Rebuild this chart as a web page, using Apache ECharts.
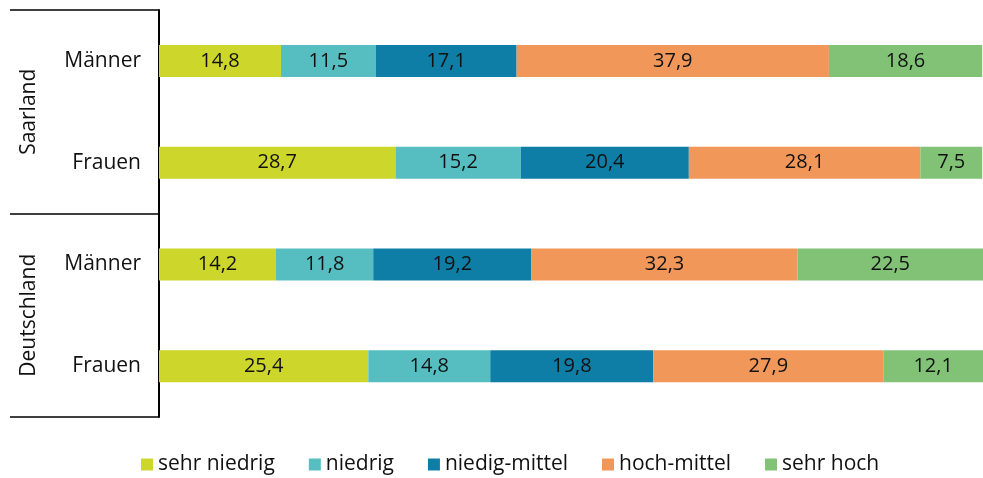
<!DOCTYPE html>
<html>
<head>
<meta charset="utf-8">
<script src="https://cdn.jsdelivr.net/npm/echarts@6/dist/echarts.min.js"></script>
<style>
  html, body { margin: 0; padding: 0; background: #fff; }
  #chart { width: 983px; height: 478px; }
</style>
</head>
<body>
<div id="chart"></div>
<script>
const rows = ['Männer', 'Frauen', 'Männer', 'Frauen']
const regions = ['Saarland', 'Deutschland']
const seriesNames = ['sehr niedrig', 'niedrig', 'niedig-mittel', 'hoch-mittel', 'sehr hoch']
const sehrNiedrig = [14.8, 28.7, 14.2, 25.4]
const niedrig = [11.5, 15.2, 11.8, 14.8]
const niedigMittel = [17.1, 20.4, 19.2, 19.8]
const hochMittel = [37.9, 28.1, 32.3, 27.9]
const sehrHoch = [18.6, 7.5, 22.5, 12.1]
const colors = ['#cdd62b', '#56bec0', '#0e7ea6', '#f09759', '#81c276']

const chart = echarts.init(document.getElementById('chart'))
const font = '"Open Sans", "Noto Sans", sans-serif'

const values = [sehrNiedrig, niedrig, niedigMittel, hochMittel, sehrHoch]

const option = {
  backgroundColor: '#fff',
  animation: false,
  textStyle: { fontFamily: font },
  legend: {
    top: 449,
    left: 136,
    itemWidth: 12,
    itemHeight: 12,
    itemGap: 34,
    itemTextGap: 6,
    icon: 'rect',
    textStyle: { fontSize: 21, color: '#111', fontFamily: font },
    data: seriesNames
  },
  grid: {
    left: 159,
    right: 0,
    top: 10,
    bottom: 61
  },
  xAxis: {
    type: 'value',
    min: 0,
    max: 100,
    show: false
  },
  yAxis: [
    {
      type: 'category',
      inverse: true,
      data: rows,
      axisLine: { show: true, lineStyle: { color: '#000', width: 2 } },
      axisTick: { show: false },
      axisLabel: { fontSize: 21, color: '#111', margin: 18, fontFamily: font }
    },
    {
      type: 'category',
      inverse: true,
      position: 'left',
      offset: 149,
      data: regions,
      axisLine: { show: false },
      axisTick: { show: true, inside: true, length: 149, lineStyle: { color: '#000', width: 1.5 } },
      axisLabel: { inside: true, rotate: 90, margin: 9, fontSize: 21, color: '#111', fontFamily: font }
    }
  ],
  series: seriesNames.map((name, i) => ({
    name: name,
    type: 'bar',
    stack: 'total',
    barWidth: 32,
    itemStyle: { color: colors[i] },
    label: {
      show: true,
      position: 'inside',
      fontSize: 20,
      color: '#111',
      fontFamily: font,
      formatter: (p) => p.value.toFixed(1).replace('.', ',')
    },
    data: values[i]
  }))
}

chart.setOption(option)
</script>
</body>
</html>
